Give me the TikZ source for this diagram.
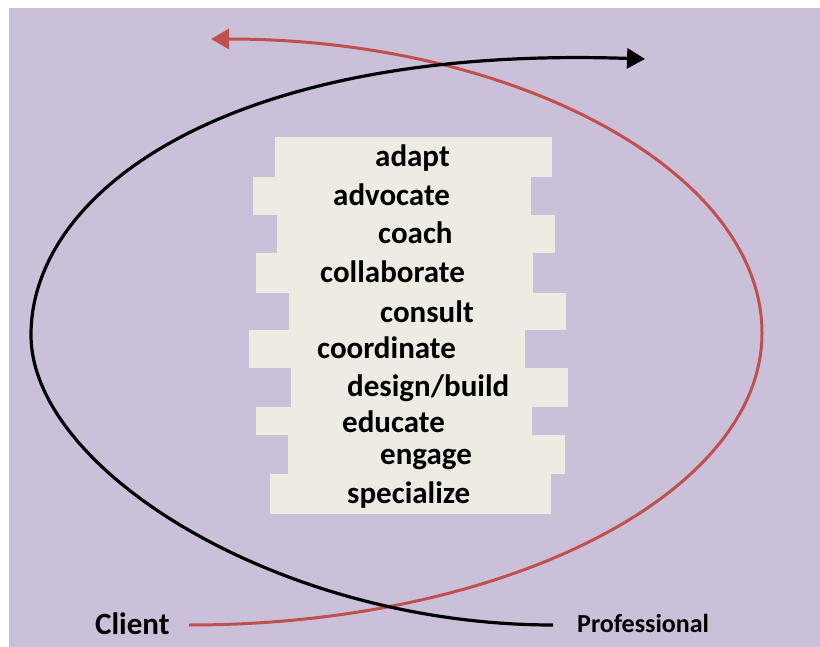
\documentclass[tikz,border=0pt]{standalone}
\usepackage{fontspec}
\setmainfont{Carlito}
\usetikzlibrary{arrows.meta}
\definecolor{lav}{RGB}{203,192,218}
\definecolor{cream}{RGB}{238,236,226}
\definecolor{redline}{RGB}{192,80,77}
\tikzset{
  brick/.style={fill=cream},
  word/.style={anchor=base west, inner sep=0pt, font=\fontsize{31}{31}\selectfont\bfseries},
  side/.style={anchor=base west, inner sep=0pt},
  loopline/.style={line width=3.2pt, -{Triangle[length=18pt, width=20pt]}},
}

\begin{document}
\begin{tikzpicture}[x=1pt, y=-1pt]
  \useasboundingbox (0,0) rectangle (820,647);
  \fill[white] (0,0) rectangle (820,647);
  \fill[lav] (9,8) rectangle (820,647);

  % stacked bricks
  \foreach \l/\t/\r/\b in {275/137/552/177, 253/177/531/215, 277/215/555/253,
      256/253/533/293, 289/293/566/330, 249/330/525/368, 291/368/568/407,
      256/407/532/435, 288/435/565/474, 270/474/551/514}
    \fill[brick] (\l,\t) rectangle (\r,\b);

  % words on the bricks
  \foreach \x/\y/\w [count=\i] in {375/167/adapt, 333/206/advocate, 378/244/coach,
      320/283/collaborate, 380/323/consult, 317/359/coordinate, 347/396/{design/build},
      342/432/educate, 380/464/engage, 347/503/specialize}
    \node[word] (w\i) at (\x,\y) {\w};

  % end labels
  \node[side, font=\fontsize{31}{31}\selectfont\bfseries] (client) at (95,634) {Client};
  \node[side, font=\fontsize{26}{26}\selectfont\bfseries] (pro) at (577,632) {Professional};

  \coordinate (rs) at (189,625);
  \coordinate (rr) at (762,333);
  \coordinate (re) at (211,39);
  \coordinate (bs) at (553,625);
  \coordinate (bl) at (31,335);
  \coordinate (be) at (645,59);

  % client loop (red), professional loop (black)
  \draw[loopline, redline, line width=3pt] (rs) .. controls (505,625) and (762,494) .. (rr)
    .. controls (762,171) and (515,39) .. (re);
  \draw[loopline, black] (bs) .. controls (280,625) and (31,470) .. (bl)
    .. controls (31,190) and (230,45) .. (be);
\end{tikzpicture}
\end{document}
